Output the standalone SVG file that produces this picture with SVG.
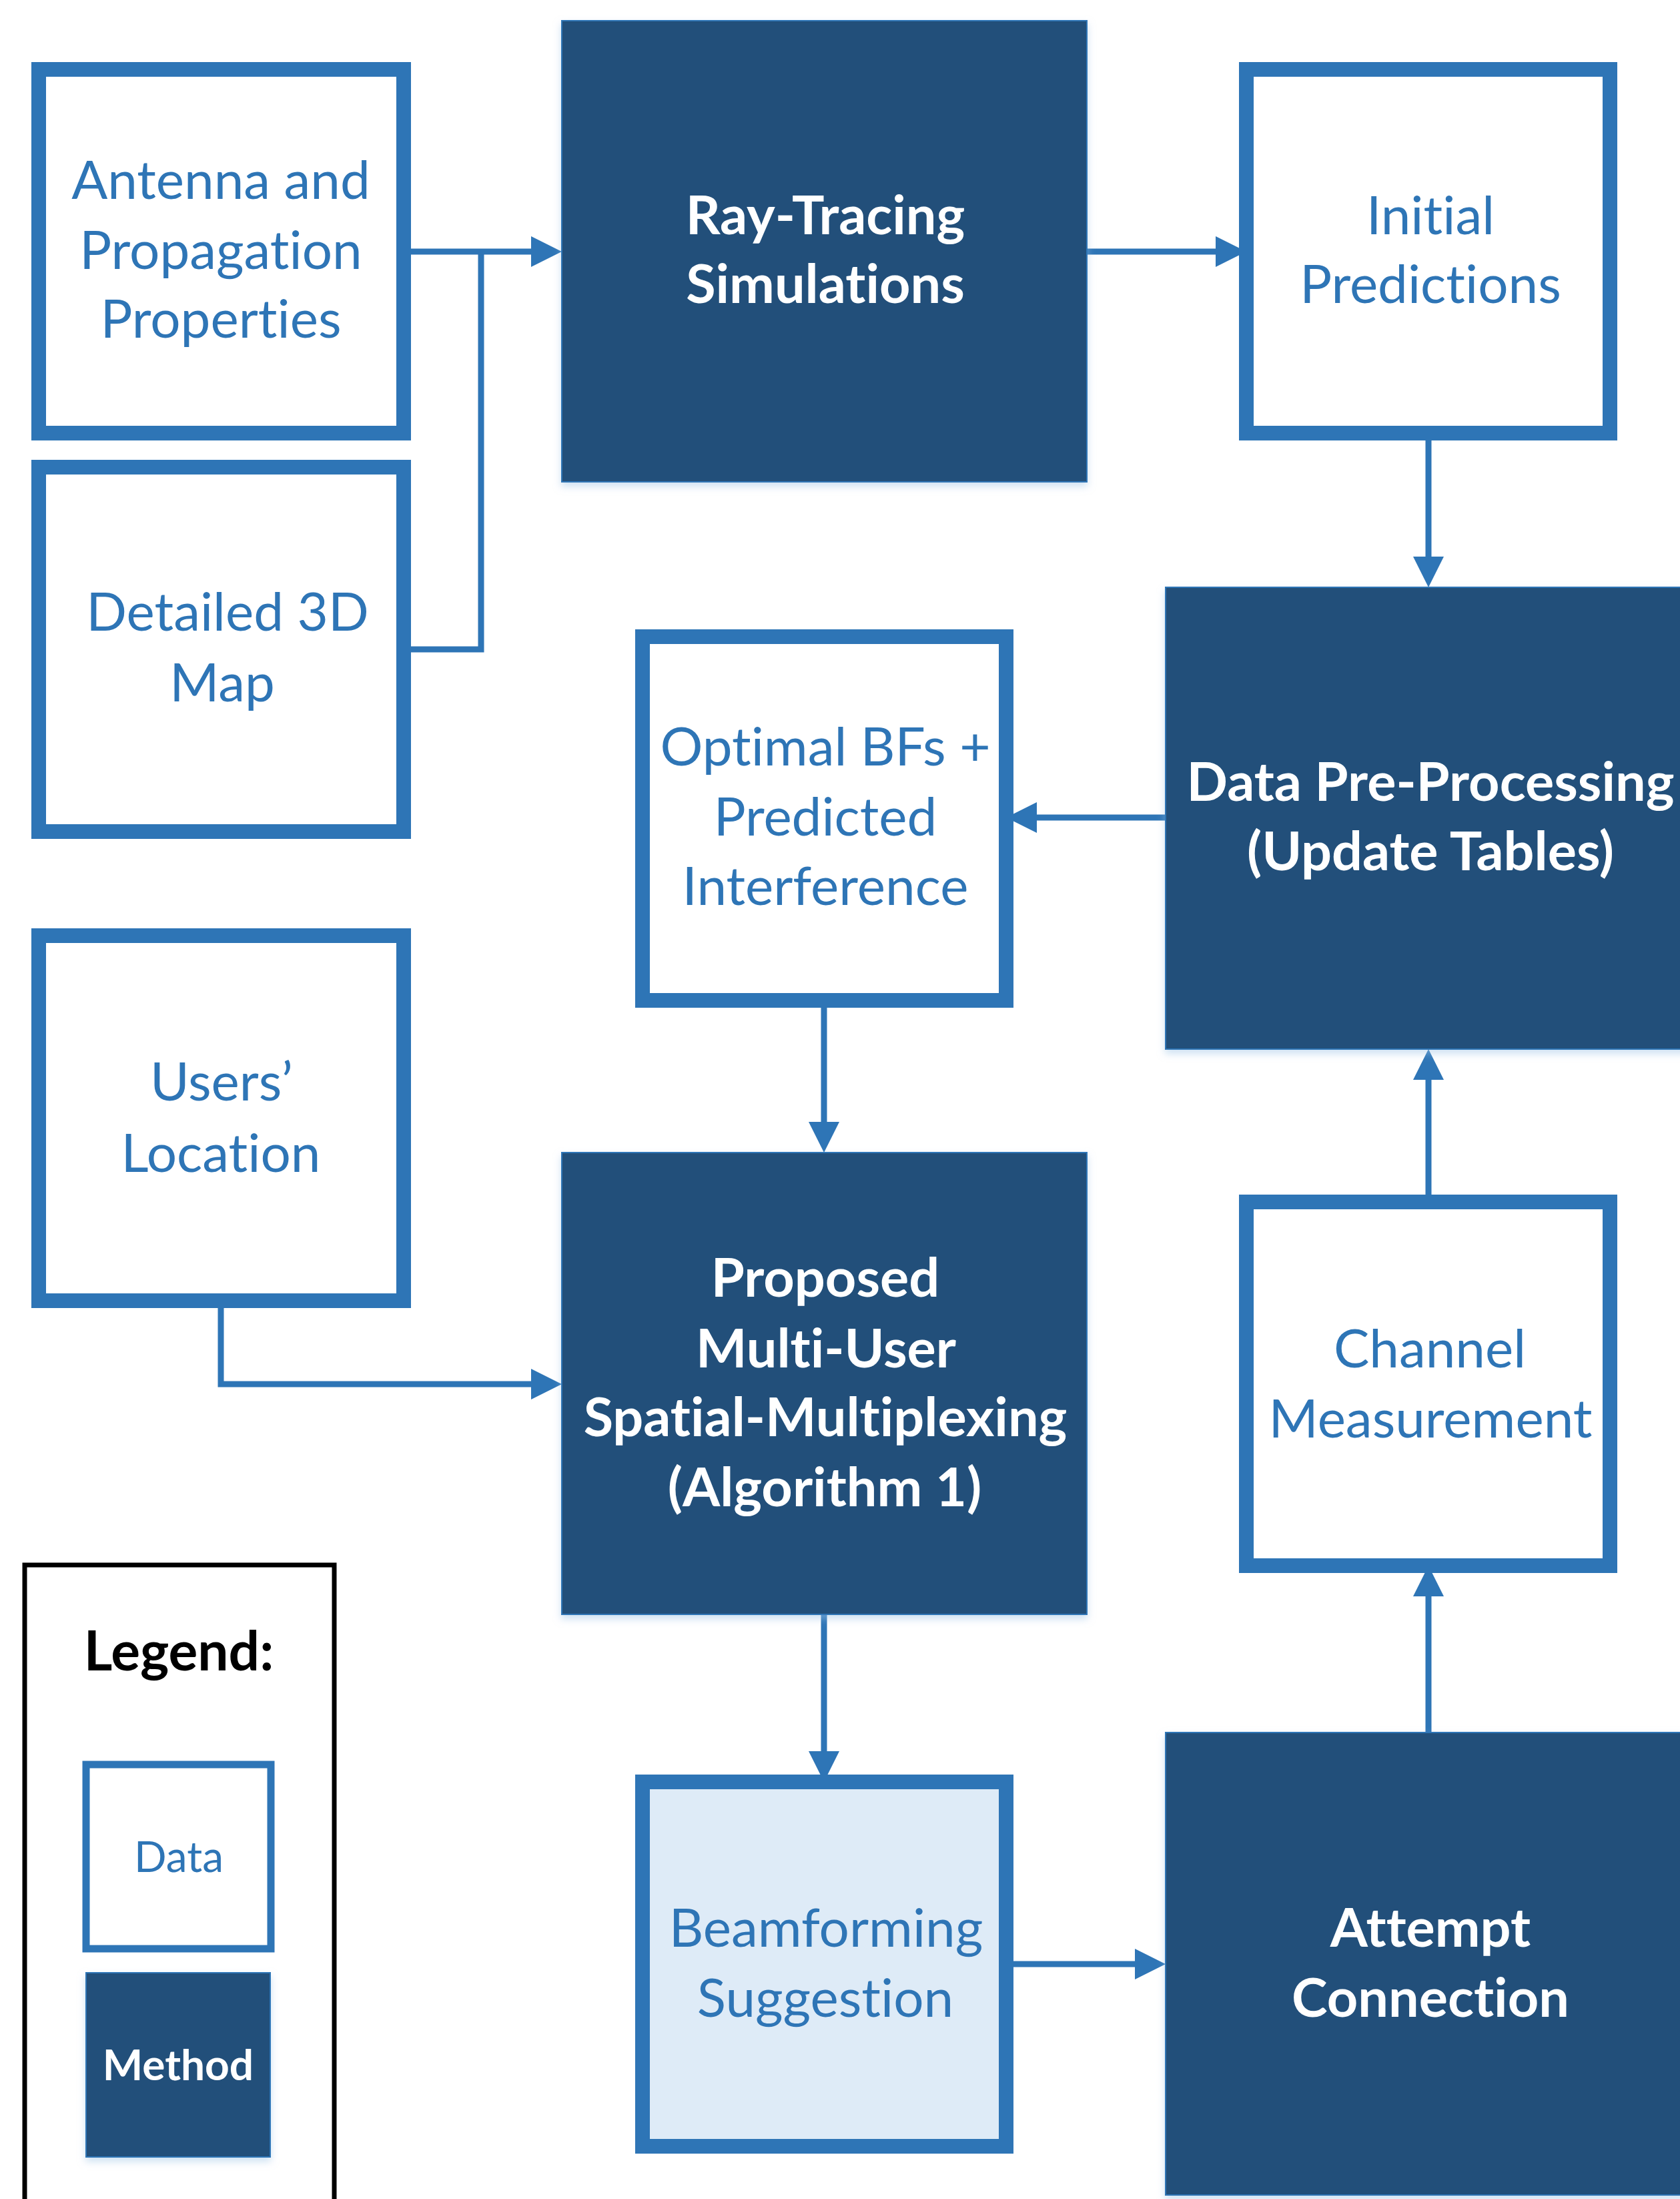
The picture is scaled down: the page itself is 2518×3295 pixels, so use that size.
<svg xmlns="http://www.w3.org/2000/svg" width="2518" height="3295" viewBox="0 0 2518 3295">
<defs>
<style>
.data{fill:#FFFFFF;stroke:#2E75B6;stroke-width:22}
.sugg{fill:#DEEBF7;stroke:#2E75B6;stroke-width:22}
.method{fill:#204F7A;stroke:#2E75B6;stroke-width:2;filter:url(#sh)}
.conn{fill:none;stroke:#2E75B6;stroke-width:9;marker-end:url(#ah)}
.line{fill:none;stroke:#2E75B6;stroke-width:9}
.t{font-family:Lato,"Open Sans","Liberation Sans",sans-serif;font-size:80px;text-anchor:middle;font-variant-ligatures:none}
.td{fill:#2E75B6}
.tm{fill:#FFFFFF;font-weight:bold;font-size:81px}
</style>
<filter id="sh" x="-10%" y="-10%" width="120%" height="120%">
<feDropShadow dx="0" dy="6" stdDeviation="6" flood-color="#9DC3E6" flood-opacity="0.5"/>
</filter>
<marker id="ah" markerUnits="userSpaceOnUse" markerWidth="46" markerHeight="46" refX="0" refY="23" orient="auto" viewBox="0 0 46 46">
<path d="M0,0 L46,23 L0,46 Z" fill="#2E75B6"/>
</marker>
</defs>
<rect width="2518" height="3295" fill="#FFFFFF"/>
<g id="connectors">
<path class="line" d="M616,973 H721 V377"/>
<path class="conn" d="M616,377 H796"/>
<path class="conn" d="M1629,377 H1822"/>
<path class="conn" d="M2141,660 V834"/>
<path class="conn" d="M1747,1225 H1554"/>
<path class="conn" d="M1235,1510 V1681"/>
<path class="conn" d="M331,1960 V2074 H796"/>
<path class="conn" d="M1235,2419 V2624"/>
<path class="conn" d="M1519,2943 H1701"/>
<path class="conn" d="M2141,2596 V2392"/>
<path class="conn" d="M2141,1790 V1618"/>
</g>
<g id="antenna">
<rect class="data" x="58" y="104" width="547" height="545"/>
<text class="t td" x="331" y="298">Antenna and</text>
<text class="t td" x="331" y="403">Propagation</text>
<text class="t td" x="331" y="506">Properties</text>
</g>
<g id="map3d">
<rect class="data" x="58" y="700" width="547" height="546"/>
<text class="t td" x="341" y="945">Detailed 3D</text>
<text class="t td" x="333" y="1051">Map</text>
</g>
<g id="raytracing">
<rect class="method" x="842" y="31" width="787" height="691"/>
<text class="t tm" x="1237" y="351">Ray-Tracing</text>
<text class="t tm" x="1237" y="454">Simulations</text>
</g>
<g id="initial">
<rect class="data" x="1868" y="104" width="545" height="545"/>
<text class="t td" x="2144" y="351">Initial</text>
<text class="t td" x="2144" y="454">Predictions</text>
</g>
<g id="preprocessing">
<rect class="method" x="1747" y="880" width="800" height="692"/>
<text class="t tm" x="2144" y="1200">Data Pre-Processing</text>
<text class="t tm" x="2144" y="1304">(Update Tables)</text>
</g>
<g id="optimal">
<rect class="data" x="963" y="954" width="545" height="545"/>
<text class="t td" x="1237" y="1147">Optimal BFs +</text>
<text class="t td" x="1237" y="1252">Predicted</text>
<text class="t td" x="1237" y="1356">Interference</text>
</g>
<g id="users">
<rect class="data" x="58" y="1402" width="547" height="547"/>
<text class="t td" x="332" y="1649">Users’</text>
<text class="t td" x="331" y="1756">Location</text>
</g>
<g id="proposed">
<rect class="method" x="842" y="1727" width="787" height="692"/>
<text class="t tm" x="1237" y="1943">Proposed</text>
<text class="t tm" x="1238" y="2049">Multi-User</text>
<text class="t tm" x="1237" y="2152">Spatial-Multiplexing</text>
<text class="t tm" x="1236" y="2257">(Algorithm 1)</text>
</g>
<g id="channel">
<rect class="data" x="1868" y="1801" width="545" height="545"/>
<text class="t td" x="2143" y="2049">Channel</text>
<text class="t td" x="2144" y="2154">Measurement</text>
</g>
<g id="beamforming">
<rect class="sugg" x="963" y="2670" width="545" height="546"/>
<text class="t td" x="1238" y="2917">Beamforming</text>
<text class="t td" x="1237" y="3022">Suggestion</text>
</g>
<g id="attempt">
<rect class="method" x="1747" y="2596" width="800" height="693"/>
<text class="t tm" x="2144" y="2917">Attempt</text>
<text class="t tm" x="2144" y="3022">Connection</text>
</g>
<g id="legend">
<rect x="37" y="2345" width="464" height="1000" fill="none" stroke="#000000" stroke-width="7"/>
<text class="t" x="268" y="2503" style="font-weight:bold;fill:#000000;font-size:82px">Legend:</text>
<rect class="data" x="129" y="2644" width="277" height="276" style="stroke-width:11"/>
<text class="t td" x="268" y="2805" style="font-size:64px">Data</text>
<rect class="method" x="129" y="2956" width="276" height="276"/>
<text class="t tm" x="267" y="3117" style="font-size:64px">Method</text>
</g>
</svg>
